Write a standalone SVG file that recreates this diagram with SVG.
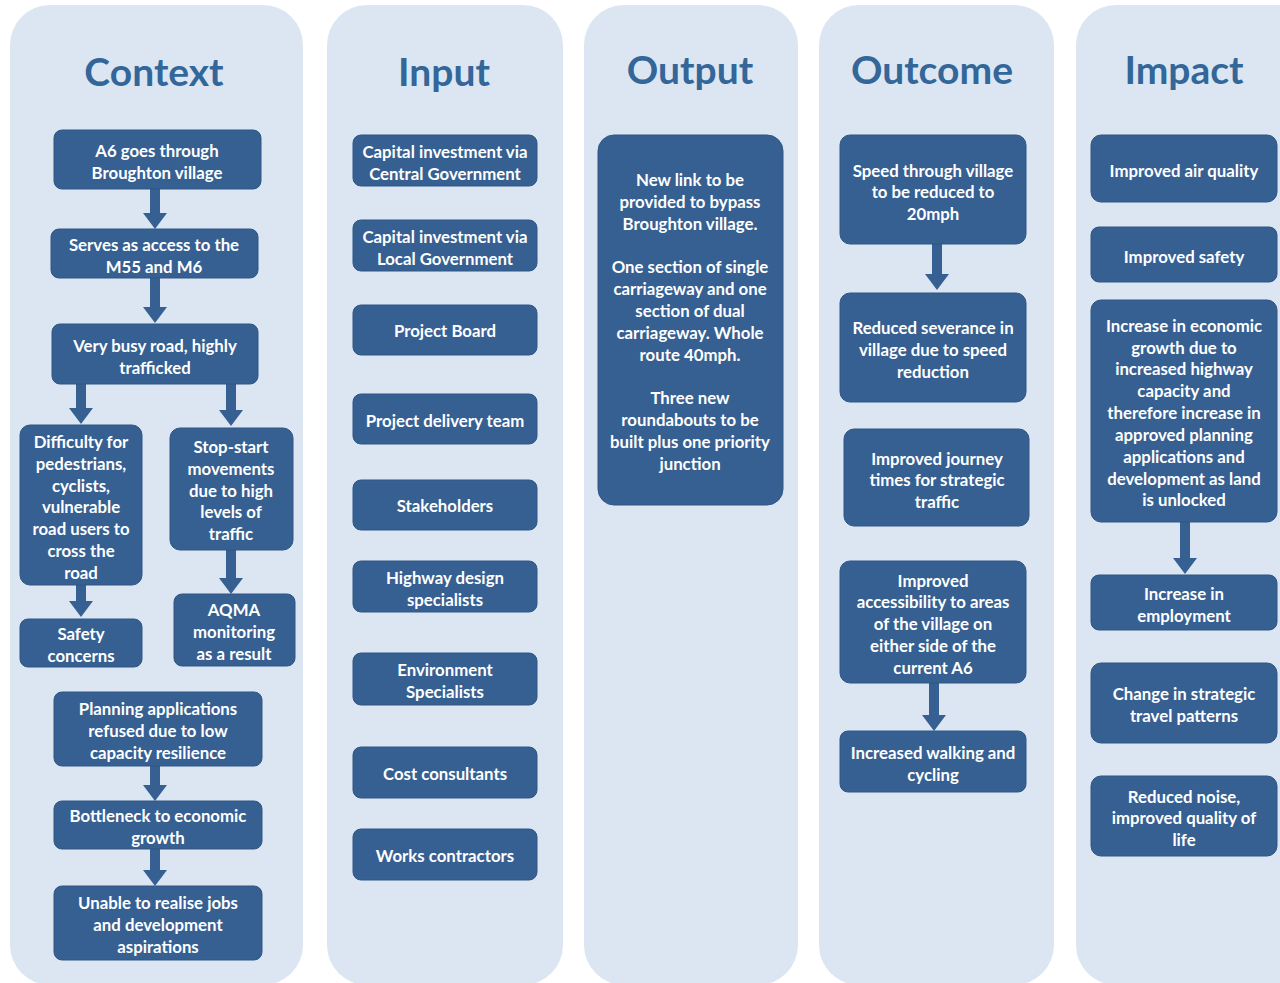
<svg xmlns="http://www.w3.org/2000/svg" width="1280" height="983" viewBox="0 0 1280 983">
<style>
.panel{fill:#dce6f2}
.title{font-family:Lato,"Liberation Sans",sans-serif;font-weight:bold;font-size:39px;fill:#336699;text-anchor:middle}
.node rect{fill:#366092;stroke:#2f5684;stroke-width:1}
.node text{font-family:Lato,"Liberation Sans",sans-serif;font-weight:bold;font-size:16.8px;fill:#ffffff;text-anchor:middle;dominant-baseline:central}
.arrow{fill:#366092}
</style>
<rect width="1280" height="983" fill="#ffffff"/>
<g id="panels">
<rect class="panel" x="10" y="5" width="293" height="980" rx="40"/>
<rect class="panel" x="327" y="5" width="236" height="980" rx="40"/>
<rect class="panel" x="584" y="5" width="214" height="980" rx="40"/>
<rect class="panel" x="819" y="5" width="235" height="980" rx="40"/>
<rect class="panel" x="1076" y="5" width="250" height="980" rx="40"/>
<text class="title" x="154" y="86">Context</text>
<text class="title" x="444" y="86">Input</text>
<text class="title" x="690" y="84">Output</text>
<text class="title" x="932" y="84">Outcome</text>
<text class="title" x="1184" y="84">Impact</text>
</g>
<g id="connectors">
<polygon class="arrow" points="150,189 160,189 160,213 167,213 155,229 143,213 150,213"/>
<polygon class="arrow" points="150,278 160,278 160,307 167,307 155,323 143,307 150,307"/>
<polygon class="arrow" points="76,384 86,384 86,408 93,408 81,424 69,408 76,408"/>
<polygon class="arrow" points="226,384 236,384 236,410 243,410 231,426 219,410 226,410"/>
<polygon class="arrow" points="76,585 86,585 86,601 93,601 81,617 69,601 76,601"/>
<polygon class="arrow" points="226,550 236,550 236,578 243,578 231,594 219,578 226,578"/>
<polygon class="arrow" points="150,766 160,766 160,785 167,785 155,801 143,785 150,785"/>
<polygon class="arrow" points="150,849 160,849 160,870 167,870 155,886 143,870 150,870"/>
<polygon class="arrow" points="932,244 942,244 942,274 949,274 937,290 925,274 932,274"/>
<polygon class="arrow" points="929,683 939,683 939,715 946,715 934,731 922,715 929,715"/>
<polygon class="arrow" points="1180,522 1190,522 1190,558 1197,558 1185,574 1173,558 1180,558"/>
</g>
<g id="c1" class="node"><rect x="54" y="130" width="207" height="59" rx="8"/><text x="157" y="150">A6 goes through</text><text x="157" y="172">Broughton village</text></g>
<g id="c2" class="node"><rect x="51" y="229" width="207" height="49" rx="8"/><text x="154" y="244">Serves as access to the</text><text x="154" y="266">M55 and M6</text></g>
<g id="c3" class="node"><rect x="52" y="324" width="206" height="60" rx="8"/><text x="155" y="345">Very busy road, highly</text><text x="155" y="367">trafficked</text></g>
<g id="c4" class="node"><rect x="20" y="425" width="122" height="160" rx="10"/><text x="81" y="441">Difficulty for</text><text x="81" y="463">pedestrians,</text><text x="81" y="485">cyclists,</text><text x="81" y="506">vulnerable</text><text x="81" y="528">road users to</text><text x="81" y="550">cross the</text><text x="81" y="572">road</text></g>
<g id="c5" class="node"><rect x="170" y="428" width="123" height="122" rx="10"/><text x="231" y="446">Stop-start</text><text x="231" y="468">movements</text><text x="231" y="490">due to high</text><text x="231" y="511">levels of</text><text x="231" y="533">traffic</text></g>
<g id="c6" class="node"><rect x="20" y="619" width="122" height="48" rx="8"/><text x="81" y="633">Safety</text><text x="81" y="655">concerns</text></g>
<g id="c7" class="node"><rect x="174" y="594" width="121" height="72" rx="8"/><text x="234" y="609">AQMA</text><text x="234" y="631">monitoring</text><text x="234" y="653">as a result</text></g>
<g id="c8" class="node"><rect x="54" y="692" width="208" height="74" rx="8"/><text x="158" y="708">Planning applications</text><text x="158" y="730">refused due to low</text><text x="158" y="752">capacity resilience</text></g>
<g id="c9" class="node"><rect x="54" y="801" width="208" height="48" rx="8"/><text x="158" y="815">Bottleneck to economic</text><text x="158" y="837">growth</text></g>
<g id="c10" class="node"><rect x="54" y="886" width="208" height="74" rx="8"/><text x="158" y="902">Unable to realise jobs</text><text x="158" y="924">and development</text><text x="158" y="946">aspirations</text></g>
<g id="i1" class="node"><rect x="353" y="135" width="184" height="51" rx="8"/><text x="445" y="151">Capital investment via</text><text x="445" y="173">Central Government</text></g>
<g id="i2" class="node"><rect x="353" y="220" width="184" height="51" rx="8"/><text x="445" y="236">Capital investment via</text><text x="445" y="258">Local Government</text></g>
<g id="i3" class="node"><rect x="353" y="305" width="184" height="50" rx="8"/><text x="445" y="330">Project Board</text></g>
<g id="i4" class="node"><rect x="353" y="394" width="184" height="50" rx="8"/><text x="445" y="420">Project delivery team</text></g>
<g id="i5" class="node"><rect x="353" y="480" width="184" height="50" rx="8"/><text x="445" y="505">Stakeholders</text></g>
<g id="i6" class="node"><rect x="353" y="561" width="184" height="51" rx="8"/><text x="445" y="577">Highway design</text><text x="445" y="599">specialists</text></g>
<g id="i7" class="node"><rect x="353" y="653" width="184" height="52" rx="8"/><text x="445" y="669">Environment</text><text x="445" y="691">Specialists</text></g>
<g id="i8" class="node"><rect x="353" y="747" width="184" height="51" rx="8"/><text x="445" y="773">Cost consultants</text></g>
<g id="i9" class="node"><rect x="353" y="829" width="184" height="51" rx="8"/><text x="445" y="855">Works contractors</text></g>
<g id="o1" class="node"><rect x="598" y="135" width="185" height="370" rx="16"/><text x="690" y="179">New link to be</text><text x="690" y="201">provided to bypass</text><text x="690" y="223">Broughton village.</text><text x="690" y="266">One section of single</text><text x="690" y="288">carriageway and one</text><text x="690" y="310">section of dual</text><text x="690" y="332">carriageway. Whole</text><text x="690" y="354">route 40mph.</text><text x="690" y="397">Three new</text><text x="690" y="419">roundabouts to be</text><text x="690" y="441">built plus one priority</text><text x="690" y="463">junction</text></g>
<g id="u1" class="node"><rect x="840" y="135" width="186" height="109" rx="10"/><text x="933" y="170">Speed through village</text><text x="933" y="191">to be reduced to</text><text x="933" y="213">20mph</text></g>
<g id="u2" class="node"><rect x="840" y="293" width="186" height="109" rx="10"/><text x="933" y="327">Reduced severance in</text><text x="933" y="349">village due to speed</text><text x="933" y="371">reduction</text></g>
<g id="u3" class="node"><rect x="844" y="429" width="185" height="97" rx="10"/><text x="937" y="458">Improved journey</text><text x="937" y="479">times for strategic</text><text x="937" y="501">traffic</text></g>
<g id="u4" class="node"><rect x="840" y="561" width="186" height="122" rx="10"/><text x="933" y="580">Improved</text><text x="933" y="601">accessibility to areas</text><text x="933" y="623">of the village on</text><text x="933" y="645">either side of the</text><text x="933" y="667">current A6</text></g>
<g id="u5" class="node"><rect x="840" y="731" width="186" height="61" rx="8"/><text x="933" y="752">Increased walking and</text><text x="933" y="774">cycling</text></g>
<g id="m1" class="node"><rect x="1091" y="135" width="186" height="67" rx="10"/><text x="1184" y="170">Improved air quality</text></g>
<g id="m2" class="node"><rect x="1091" y="227" width="186" height="55" rx="8"/><text x="1184" y="256">Improved safety</text></g>
<g id="m3" class="node"><rect x="1091" y="300" width="186" height="222" rx="10"/><text x="1184" y="325">Increase in economic</text><text x="1184" y="347">growth due to</text><text x="1184" y="368">increased highway</text><text x="1184" y="390">capacity and</text><text x="1184" y="412">therefore increase in</text><text x="1184" y="434">approved planning</text><text x="1184" y="456">applications and</text><text x="1184" y="478">development as land</text><text x="1184" y="499">is unlocked</text></g>
<g id="m4" class="node"><rect x="1091" y="575" width="186" height="55" rx="8"/><text x="1184" y="593">Increase in</text><text x="1184" y="615">employment</text></g>
<g id="m5" class="node"><rect x="1091" y="663" width="186" height="80" rx="10"/><text x="1184" y="693">Change in strategic</text><text x="1184" y="715">travel patterns</text></g>
<g id="m6" class="node"><rect x="1091" y="776" width="186" height="80" rx="10"/><text x="1184" y="796">Reduced noise,</text><text x="1184" y="817">improved quality of</text><text x="1184" y="839">life</text></g>
</svg>
